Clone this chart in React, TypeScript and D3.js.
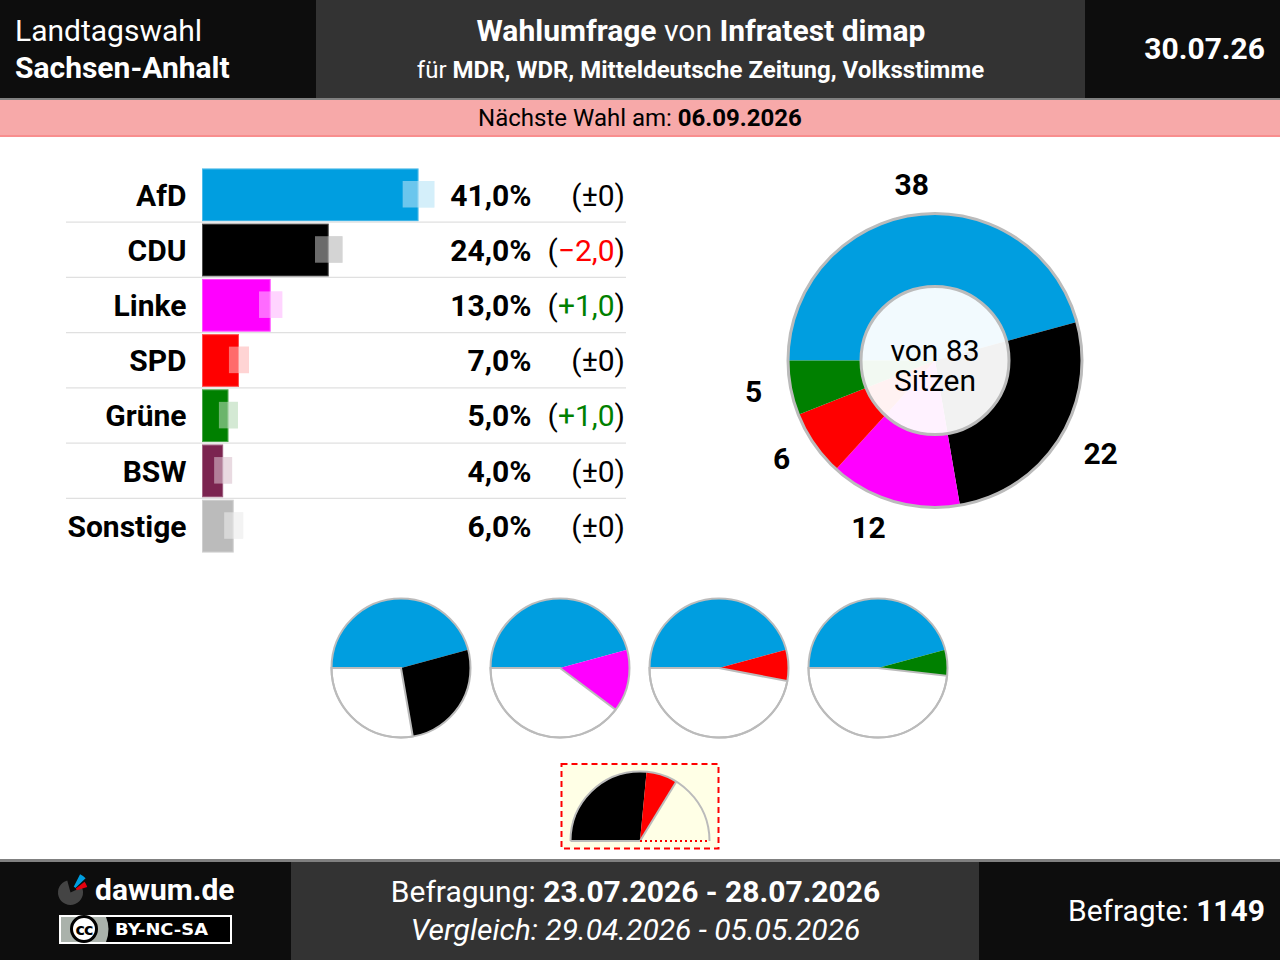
import React from 'react';
import * as d3 from 'd3';

const parties = ['AfD', 'CDU', 'Linke', 'SPD', 'Grüne', 'BSW', 'Sonstige'];
const shares = [41, 24, 13, 7, 5, 4, 6];
const changes = [0, -2, 1, 0, 1, 0, 0];
const margins = [3.0, 2.6, 2.2, 1.9, 1.8, 1.7, 1.8];
const colors = ['#009ee0', '#000000', '#ff00ff', '#ff0000', '#008000', '#7b2450', '#bbbbbb'];

const seatParties = ['AfD', 'CDU', 'Linke', 'SPD', 'Grüne'];
const seats = [38, 22, 12, 6, 5];
const totalSeats = 83;

const coalitions = [
  ['AfD', 'CDU'],
  ['AfD', 'Linke'],
  ['AfD', 'SPD'],
  ['AfD', 'Grüne'],
];
const highlighted = ['CDU', 'SPD'];

const FONT = 'Roboto, sans-serif';
const colorOf = (p: string) => colors[parties.indexOf(p)];
const seatsOf = (p: string) => seats[seatParties.indexOf(p)];

// set the dimensions of the bar area
const xBar = d3.scaleLinear().domain([0, 41]).range([202, 418.5]);
const yRow = d3.scaleBand().domain(parties).range([167, 553.5]);

const angle = d3
  .scaleLinear()
  .domain([0, totalSeats])
  .range([-Math.PI / 2, (3 * Math.PI) / 2]);

const fmt = (v: number) => v.toFixed(1).replace('.', ',');

const slices = (values: number[]) => {
  const ends = Array.from(d3.cumsum(values));
  return values.map((v, i) => ({
    startAngle: angle(ends[i] - v),
    endAngle: angle(ends[i]),
  }));
};

const Bars = () => (
  <g fontFamily={FONT} fontSize={30} fill="#000">
    {parties.map((p, i) => {
      const y0 = yRow(p)!;
      const h = yRow.bandwidth();
      const bandX = xBar(shares[i] - margins[i]);
      const bandW = xBar(shares[i] + margins[i]) - bandX;
      const c = changes[i];
      return (
        <g key={p}>
          {i > 0 && <line x1={66} x2={626} y1={y0} y2={y0} stroke="#e0e0e0" strokeWidth={1.2} />}
          <rect x={bandX} y={y0 + 14} width={bandW} height={26.5} fill={colors[i]} opacity={0.29} />
          <rect
            x={xBar(0)}
            y={y0 + 1.5}
            width={xBar(shares[i]) - xBar(0)}
            height={h - 2.5}
            fill={colors[i]}
          />
          <rect
            x={xBar(0) + 0.5}
            y={y0 + 2}
            width={xBar(shares[i]) - xBar(0) - 1}
            height={h - 3.5}
            fill="none"
            stroke="#fff"
            strokeOpacity={0.3}
          />
          <rect x={bandX} y={y0 + 14} width={bandW} height={26.5} fill="#fff" opacity={0.42} />
          <text x={186.5} y={y0 + 38.5} textAnchor="end" fontWeight={700}>
            {p}
          </text>
          <text x={531.5} y={y0 + 38.5} textAnchor="end" fontWeight={700}>
            {fmt(shares[i])}%
          </text>
          <text x={625} y={y0 + 38.5} textAnchor="end">
            (
            {c === 0 ? (
              '±0'
            ) : (
              <tspan fill={c < 0 ? '#ff0000' : '#008000'}>
                {c < 0 ? '−' : '+'}
                {fmt(Math.abs(c))}
              </tspan>
            )}
            )
          </text>
        </g>
      );
    })}
  </g>
);

const SeatPie = () => {
  const cx = 935;
  const cy = 360.5;
  const outer = 147;
  const inner = 74;
  const arc = d3.arc<any>().innerRadius(0).outerRadius(outer);
  const pieces = slices(seats);
  const labelR = 176;
  return (
    <g transform={`translate(${cx},${cy})`}>
      {pieces.map((d, i) => (
        <path key={seatParties[i]} d={arc(d)!} fill={colorOf(seatParties[i])} />
      ))}
      <circle r={outer} fill="none" stroke="#bbb" strokeWidth={3} />
      <circle r={inner} fill="#fff" fillOpacity={0.95} stroke="#bbb" strokeWidth={3} />
      {pieces.map((d, i) => {
        const mid = (d.startAngle + d.endAngle) / 2;
        const sx = Math.sin(mid);
        const anchor = Math.abs(sx) < 0.2 ? 'middle' : sx > 0 ? 'start' : 'end';
        return (
          <text
            key={seatParties[i]}
            x={sx * labelR}
            y={-Math.cos(mid) * labelR + 8.5}
            textAnchor={anchor}
            fontFamily={FONT}
            fontSize={30}
            fontWeight={700}
          >
            {seats[i]}
          </text>
        );
      })}
      <text y={0.5} textAnchor="middle" fontFamily={FONT} fontSize={30}>
        von {totalSeats}
      </text>
      <text y={30.5} textAnchor="middle" fontFamily={FONT} fontSize={30}>
        Sitzen
      </text>
    </g>
  );
};

const MiniPie = ({ members, cx }: { members: string[]; cx: number }) => {
  const r = 69.5;
  const arc = d3.arc<any>().innerRadius(0).outerRadius(r);
  const values = members.map(seatsOf);
  const rest = totalSeats - d3.sum(values);
  const pieces = slices([...values, rest]);
  return (
    <g transform={`translate(${cx},668)`}>
      {members.map((m, i) => (
        <path key={m} d={arc(pieces[i])!} fill={colorOf(m)} />
      ))}
      <path d={arc(pieces[pieces.length - 1])!} fill="#fff" stroke="#bbb" strokeWidth={2} />
      <circle r={r} fill="none" stroke="#bbb" strokeWidth={2} />
    </g>
  );
};

const Gauge = () => {
  const r = 69.5;
  const arc = d3.arc<any>().innerRadius(0).outerRadius(r);
  const pieces = slices(highlighted.map(seatsOf));
  const end = pieces[pieces.length - 1].endAngle;
  const outline = d3.arc<any>().innerRadius(r).outerRadius(r);
  return (
    <g>
      <rect
        x={561.5}
        y={764}
        width={157}
        height={84.5}
        fill="#ffffe6"
        stroke="#ff0000"
        strokeWidth={2}
        strokeDasharray="6 4"
      />
      <g transform="translate(640,841)">
        {highlighted.map((p, i) => (
          <path key={p} d={arc(pieces[i])!} fill={colorOf(p)} />
        ))}
        <line
          x1={0}
          y1={0}
          x2={Math.sin(end) * r}
          y2={-Math.cos(end) * r}
          stroke="#bbb"
          strokeWidth={2}
        />
        <path
          d={outline({ startAngle: -Math.PI / 2, endAngle: Math.PI / 2 })!}
          fill="none"
          stroke="#bbb"
          strokeWidth={2}
        />
        <line x1={-r} x2={0} y1={0} y2={0} stroke="#bbb" strokeWidth={2} />
        <line x1={0} x2={r} y1={0} y2={0} stroke="#ff0000" strokeWidth={2} strokeDasharray="2 3" />
      </g>
    </g>
  );
};

const Logo = () => {
  const arc = d3.arc<any>();
  const deg = Math.PI / 180;
  return (
    <g>
      <g transform="translate(70.5,892.5)">
        <path
          d={arc({ innerRadius: 0, outerRadius: 12.5, startAngle: 65 * deg, endAngle: 345 * deg })!}
          fill="#444"
        />
      </g>
      <g transform="translate(71,892)">
        <path
          d={arc({ innerRadius: 6, outerRadius: 20, startAngle: 27 * deg, endAngle: 47 * deg })!}
          fill="#009ee0"
        />
        <path
          d={arc({ innerRadius: 6, outerRadius: 17, startAngle: 53 * deg, endAngle: 73 * deg })!}
          fill="#e3000f"
        />
      </g>
      <text x={95} y={900} fontFamily={FONT} fontSize={30} fontWeight={700} fill="#fff">
        dawum.de
      </text>
      <rect x={60} y={916} width={171} height={27} fill="#000" stroke="#fff" strokeWidth={2} />
      <path d="M61,917 H106 Q111,929 106,942 H61 Z" fill="#aab2ab" />
      <circle cx={84} cy={929} r={12.5} fill="#fff" stroke="#000" strokeWidth={3} />
      <text
        x={84}
        y={934.5}
        textAnchor="middle"
        fontFamily="'DejaVu Sans', sans-serif"
        fontSize={16}
        fontWeight={700}
        fill="#000"
        letterSpacing={-1}
      >
        cc
      </text>
      <text
        x={115}
        y={935}
        fontFamily="'DejaVu Sans', sans-serif"
        fontSize={16}
        fontWeight={700}
        fill="#fff"
        textLength={93}
        lengthAdjust="spacingAndGlyphs"
      >
        BY-NC-SA
      </text>
    </g>
  );
};

const Header = () => (
  <g fontFamily={FONT} fill="#fff">
    <rect x={0} y={0} width={1280} height={98} fill="#0d0d0d" />
    <rect x={316} y={0} width={769} height={98} fill="#333" />
    <rect x={0} y={98} width={1280} height={2} fill="#808080" />
    <text x={15} y={41} fontSize={30}>
      Landtagswahl
    </text>
    <text x={15} y={78} fontSize={30} fontWeight={700}>
      Sachsen-Anhalt
    </text>
    <text x={701} y={41} fontSize={30} textAnchor="middle">
      <tspan fontWeight={700}>Wahlumfrage</tspan> von <tspan fontWeight={700}>Infratest dimap</tspan>
    </text>
    <text x={700.5} y={78} fontSize={24} textAnchor="middle">
      für <tspan fontWeight={700}>MDR, WDR, Mitteldeutsche Zeitung, Volksstimme</tspan>
    </text>
    <text x={1265} y={59} fontSize={30} fontWeight={700} textAnchor="end">
      30.07.26
    </text>
    <rect x={0} y={100} width={1280} height={35} fill="#f7a9a9" />
    <rect x={0} y={135} width={1280} height={2} fill="#f88e8e" />
    <text x={640} y={126} fontSize={24} fill="#000" textAnchor="middle">
      Nächste Wahl am: <tspan fontWeight={700}>06.09.2026</tspan>
    </text>
  </g>
);

const Footer = () => (
  <g fontFamily={FONT} fill="#fff">
    <rect x={0} y={859} width={1280} height={3} fill="#808080" />
    <rect x={0} y={862} width={1280} height={98} fill="#0d0d0d" />
    <rect x={291} y={862} width={688} height={98} fill="#333" />
    <text x={635.5} y={902} fontSize={30} textAnchor="middle">
      Befragung: <tspan fontWeight={700}>23.07.2026 - 28.07.2026</tspan>
    </text>
    <text x={635.5} y={940} fontSize={30} fontStyle="italic" textAnchor="middle">
      Vergleich: 29.04.2026 - 05.05.2026
    </text>
    <text x={1265} y={921} fontSize={30} textAnchor="end">
      Befragte: <tspan fontWeight={700}>1149</tspan>
    </text>
    <Logo />
  </g>
);

const miniCenters = d3.scalePoint<number>().domain([0, 1, 2, 3]).range([401, 878]);

export default function App() {
  return (
    <svg
      width={1280}
      height={960}
      style={{ position: 'absolute', left: 0, top: 0, display: 'block', background: '#fff' }}
    >
      <Header />
      <Bars />
      <SeatPie />
      {coalitions.map((c, i) => (
        <MiniPie key={c.join('-')} members={c} cx={miniCenters(i)!} />
      ))}
      <Gauge />
      <Footer />
    </svg>
  );
}
